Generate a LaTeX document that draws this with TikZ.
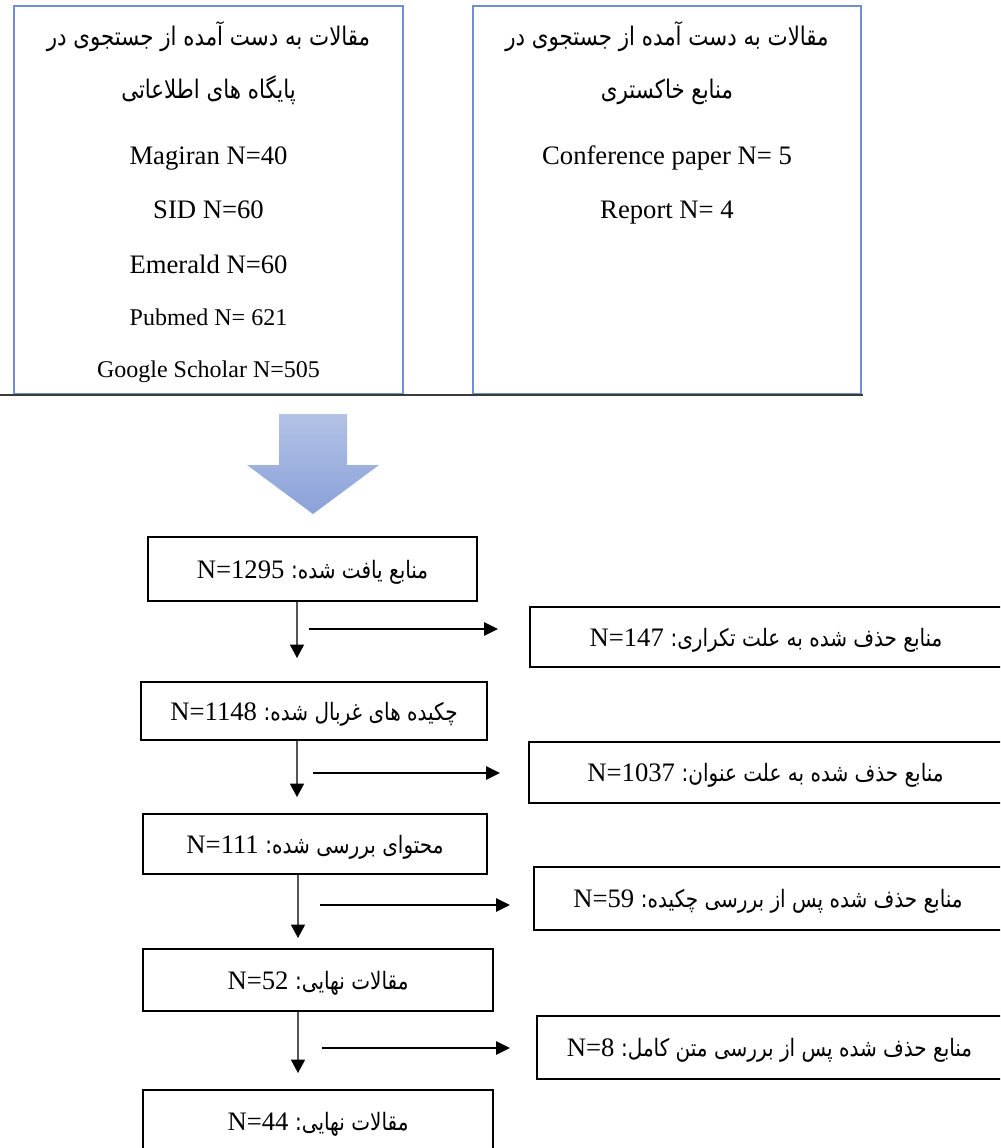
\documentclass[tikz,border=0pt]{standalone}
\usepackage{fontspec}
\setmainfont{Liberation Serif}
\newfontfamily\arabicfont[Script=Arabic]{DejaVu Sans}
\TeXXeTstate=1
\usetikzlibrary{arrows.meta}
\definecolor{boxblue}{HTML}{6E8FD6}
\definecolor{arrtop}{HTML}{B3C2E6}
\definecolor{arrbot}{HTML}{8AA1D9}
\definecolor{rulegray}{HTML}{3A3A3A}
\definecolor{stemgray}{HTML}{555555}
\newcommand\fa[1]{\scalebox{1}[1.2]{\arabicfont\fontsize{15}{18}\selectfont\beginR #1\endR}}
\newcommand\fah[1]{\scalebox{1}[1.2]{\arabicfont\fontsize{16}{20}\selectfont\beginR #1\endR}}
\tikzset{
  srcbox/.style={draw=boxblue, line width=1.1pt, rectangle, inner sep=0pt},
  flowbox/.style={draw=black, line width=1.3pt, rectangle, inner sep=0pt, text height=14pt, text depth=0pt, font=\fontsize{20}{24}\selectfont},
  txt/.style={inner sep=0pt, text height=13.8pt, text depth=0pt, font=\fontsize{20}{24}\selectfont},
  stxt/.style={inner sep=0pt, text height=12.4pt, text depth=0pt, font=\fontsize{18}{22}\selectfont},
  fatxt/.style={inner sep=0pt, text height=12.5pt, text depth=0pt, font=\fontsize{16}{20}\selectfont},
  vflow/.style={draw=stemgray, line width=1pt, -{Triangle[length=10pt,width=10.5pt,color=black]}},
  hflow/.style={draw=black, line width=1.2pt, -{Triangle[length=10.5pt,width=10pt]}}
}
\begin{document}
\begin{tikzpicture}[x=0.75pt,y=-0.75pt]
\useasboundingbox (0,0) rectangle (1000,1148);
\clip (0,0) rectangle (1000,1148);

% source boxes
\node[srcbox, minimum width=291.75pt, minimum height=291pt] (tl) at (208.5,200) {};
\node[srcbox, minimum width=291pt, minimum height=291pt] (tr) at (667,200) {};
\coordinate (ruleL) at (0,395);
\coordinate (ruleR) at (863,395);
\draw[rulegray, line width=1.5pt] (ruleL) -- (ruleR);

\node[fatxt] (tl1) at (208.5,37) {\fah{مقالات به دست آمده از جستجوی در}};
\node[fatxt] (tl2) at (208.5,90) {\fah{پایگاه های اطلاعاتی}};
\node[txt] (tl3) at (208.5,155) {Magiran N=40};
\node[txt] (tl4) at (208.5,209) {SID N=60};
\node[txt] (tl5) at (208.5,264) {Emerald N=60};
\node[stxt] (tl6) at (208.5,317) {Pubmed N= 621};
\node[stxt] (tl7) at (208.5,369) {Google Scholar N=505};

\node[fatxt] (tr1) at (667,37) {\fah{مقالات به دست آمده از جستجوی در}};
\node[fatxt] (tr2) at (667,90) {\fah{منابع خاکستری}};
\node[txt] (tr3) at (667,155) {Conference paper N= 5};
\node[txt] (tr4) at (667,209) {Report N= 4};

% big arrow
\shade[top color=arrtop, bottom color=arrbot]
  (279,414) -- (347,414) -- (347,465) -- (379,465) -- (313,514) -- (247,465) -- (279,465) -- cycle;

% flow boxes
\node[flowbox, minimum width=246.75pt, minimum height=48pt] (b1) at (312.5,569) {N=1295 \fa{منابع یافت شده:}};
\node[flowbox, minimum width=259.5pt, minimum height=43.5pt] (b2) at (314,711) {N=1148 \fa{چکیده های غربال شده:}};
\node[flowbox, minimum width=258pt, minimum height=45pt] (b3) at (315,844) {N=111 \fa{محتوای بررسی شده:}};
\node[flowbox, minimum width=262.5pt, minimum height=46.5pt] (b4) at (318,980) {N=52 \fa{مقالات نهایی:}};
\node[flowbox, minimum width=262.5pt, minimum height=46.5pt] (b5) at (318,1121) {N=44 \fa{مقالات نهایی:}};

\node[flowbox, minimum width=354pt, minimum height=45pt] (r1) at (766,637) {N=147 \fa{منابع حذف شده به علت تکراری:}};
\node[flowbox, minimum width=354.75pt, minimum height=45.75pt] (r2) at (765.5,772.5) {N=1037 \fa{منابع حذف شده به علت عنوان:}};
\node[flowbox, minimum width=351pt, minimum height=47.25pt] (r3) at (768,898.5) {N=59 \fa{منابع حذف شده پس از بررسی چکیده:}};
\node[flowbox, minimum width=348.75pt, minimum height=47.25pt] (r4) at (769.5,1047.5) {N=8 \fa{منابع حذف شده پس از بررسی متن کامل:}};

% vertical arrows
\coordinate (v1) at (297,658);
\coordinate (v2) at (297,797);
\coordinate (v3) at (298,938);
\coordinate (v4) at (298,1073);
\draw[vflow] (b1.south -| v1) -- (v1);
\draw[vflow] (b2.south -| v2) -- (v2);
\draw[vflow] (b3.south -| v3) -- (v3);
\draw[vflow] (b4.south -| v4) -- (v4);

% horizontal arrows
\coordinate (h1s) at (309,629);  \coordinate (h1e) at (498,629);
\coordinate (h2s) at (313,773);  \coordinate (h2e) at (500,773);
\coordinate (h3s) at (320,905);  \coordinate (h3e) at (510,905);
\coordinate (h4s) at (322,1048); \coordinate (h4e) at (510,1048);
\draw[hflow] (h1s) -- (h1e);
\draw[hflow] (h2s) -- (h2e);
\draw[hflow] (h3s) -- (h3e);
\draw[hflow] (h4s) -- (h4e);
\end{tikzpicture}
\end{document}
